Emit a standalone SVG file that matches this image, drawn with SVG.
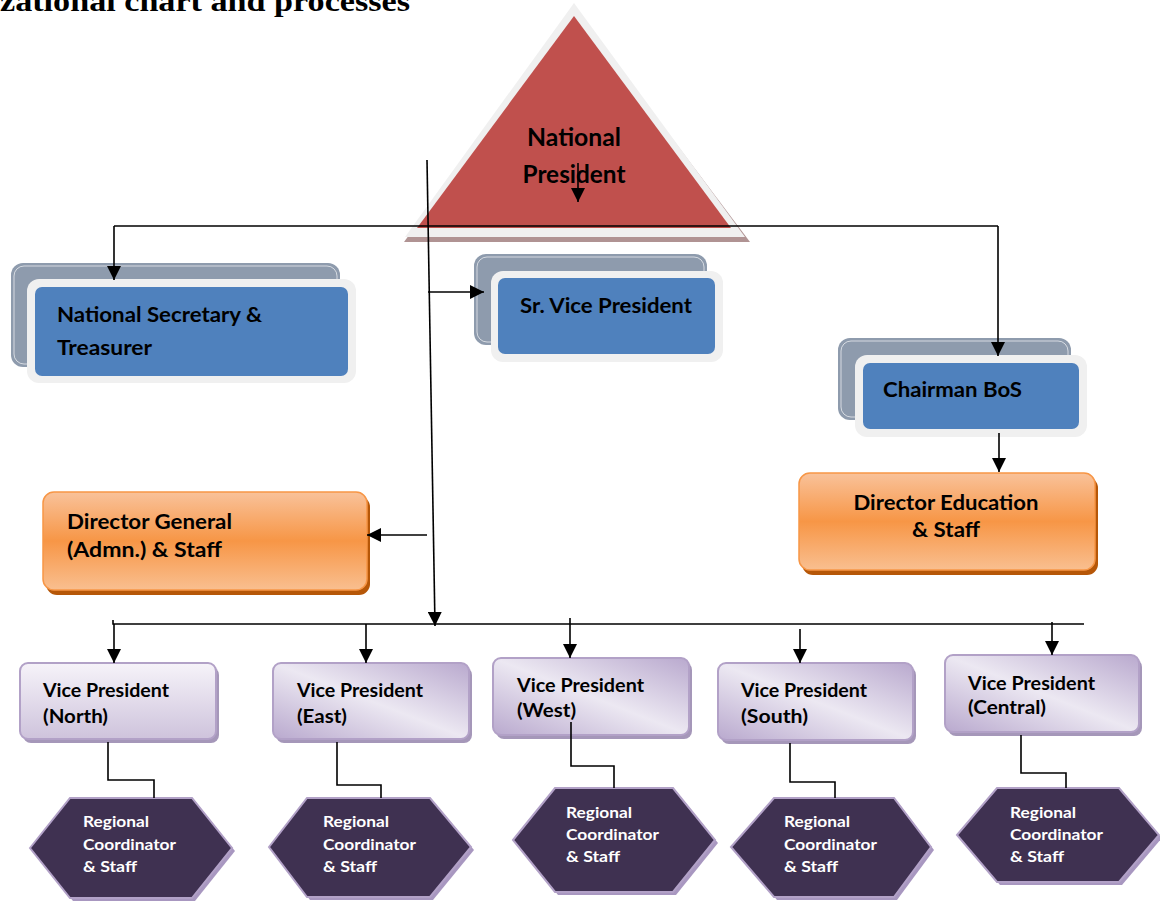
<svg xmlns="http://www.w3.org/2000/svg" width="1160" height="902" viewBox="0 0 1160 902">
<style>
.t{font-family:Lato,"Liberation Sans",sans-serif;font-weight:bold;fill:#000}
.tw{font-family:Lato,"Liberation Sans",sans-serif;font-weight:bold;fill:#fff;font-size:16px}
.back{fill:#8E9BAD}
.backline{fill:none;stroke:#fff;stroke-width:0.8;stroke-opacity:0.8}
.frame{fill:#F0F0F0}
.blue{fill:#4F81BD}
.orsh{fill:#B65708}
.or{fill:url(#gOr);stroke:#F79646;stroke-width:1.5}
.vpsh{fill:#A597B9}
.vp{stroke:#B2A1C7;stroke-width:2}
.hexsh{fill:#A897C0}
.hex{fill:#3F3151;stroke:#B2A1C7;stroke-width:2}
.ln{fill:none;stroke:#000;stroke-width:1.6}
.ar{marker-end:url(#arr)}
</style>
<defs>
<marker id="arr" viewBox="0 0 14 14" refX="14" refY="7" markerWidth="14" markerHeight="14" markerUnits="userSpaceOnUse" orient="auto">
<path d="M0,0 L14,7 L0,14 z" fill="#000"/>
</marker>
<linearGradient id="gOr" x1="0" y1="0" x2="0" y2="1">
<stop offset="0" stop-color="#F9C29A"/>
<stop offset="0.5" stop-color="#F79646"/>
<stop offset="1" stop-color="#F9BF90"/>
</linearGradient>
<linearGradient id="gVpN" x1="0" y1="0" x2="0" y2="1">
<stop offset="0" stop-color="#F6F3F9"/>
<stop offset="1" stop-color="#CEC3DC"/>
</linearGradient>
<linearGradient id="gVpD" x1="0" y1="1" x2="1" y2="0">
<stop offset="0" stop-color="#B9A9CE"/>
<stop offset="0.5" stop-color="#ECE8F2"/>
<stop offset="1" stop-color="#B9A9CE"/>
</linearGradient>
</defs>
<rect x="0" y="0" width="1160" height="902" fill="#fff"/>

<text x="0" y="11" font-family="'Liberation Serif','DejaVu Serif',serif" font-weight="bold" font-size="29" textLength="410" lengthAdjust="spacingAndGlyphs">zational chart and processes</text>

<g id="national-president">
<polygon points="574,8 404,242 750,242" fill="#B09393"/>
<polygon points="574,3 405,237 745,237" fill="#F0F0F0"/>
<polygon points="574,16 417,228 731,228" fill="#C0504D"/>
<text class="t" x="574" y="146" font-size="24" text-anchor="middle" textLength="94" lengthAdjust="spacingAndGlyphs">National</text>
<text class="t" x="574" y="183" font-size="24" text-anchor="middle" textLength="103" lengthAdjust="spacingAndGlyphs">President</text>
</g>

<g id="national-secretary">
<rect class="back" x="11" y="263" width="329" height="104" rx="12"/>
<rect class="backline" x="14" y="266" width="323" height="98" rx="10"/>
<rect class="frame" x="27" y="279" width="329" height="104" rx="12"/>
<rect class="blue" x="35" y="287" width="313" height="89" rx="7"/>
<text class="t" x="57" y="322" font-size="21" textLength="205" lengthAdjust="spacingAndGlyphs">National Secretary &amp;</text>
<text class="t" x="57" y="355" font-size="21" textLength="95" lengthAdjust="spacingAndGlyphs">Treasurer</text>
</g>

<g id="sr-vice-president">
<rect class="back" x="474" y="254" width="233" height="91" rx="12"/>
<rect class="backline" x="477" y="257" width="227" height="85" rx="10"/>
<rect class="frame" x="491" y="271" width="232" height="91" rx="12"/>
<rect class="blue" x="498" y="278" width="217" height="76" rx="7"/>
<text class="t" x="520" y="313" font-size="21" textLength="172" lengthAdjust="spacingAndGlyphs">Sr. Vice President</text>
</g>

<g id="chairman-bos">
<rect class="back" x="838" y="338" width="233" height="82" rx="12"/>
<rect class="backline" x="841" y="341" width="227" height="76" rx="10"/>
<rect class="frame" x="855" y="355" width="232" height="82" rx="12"/>
<rect class="blue" x="863" y="363" width="216" height="66" rx="7"/>
<text class="t" x="883" y="397" font-size="21" textLength="139" lengthAdjust="spacingAndGlyphs">Chairman BoS</text>
</g>

<g id="director-education">
<rect class="orsh" x="802" y="477" width="296" height="98" rx="11"/>
<rect class="or" x="799" y="473" width="296" height="97" rx="11"/>
<text class="t" x="946" y="510" font-size="21" text-anchor="middle" textLength="185" lengthAdjust="spacingAndGlyphs">Director Education</text>
<text class="t" x="946" y="537" font-size="21" text-anchor="middle" textLength="68" lengthAdjust="spacingAndGlyphs">&amp; Staff</text>
</g>

<g id="director-general">
<rect class="orsh" x="46" y="496" width="324" height="99" rx="11"/>
<rect class="or" x="43" y="492" width="324" height="98" rx="11"/>
<text class="t" x="67" y="529" font-size="21" textLength="165" lengthAdjust="spacingAndGlyphs">Director General</text>
<text class="t" x="67" y="557" font-size="21" textLength="155" lengthAdjust="spacingAndGlyphs">(Admn.) &amp; Staff</text>
</g>

<g id="vp-north">
<rect class="vpsh" x="23" y="667" width="196" height="76" rx="8"/>
<rect class="vp" x="20" y="663" width="196" height="76" rx="8" fill="url(#gVpN)"/>
<text class="t" x="43" y="697" font-size="19" textLength="126" lengthAdjust="spacingAndGlyphs">Vice President</text>
<text class="t" x="43" y="723" font-size="19" textLength="65" lengthAdjust="spacingAndGlyphs">(North)</text>
</g>
<g id="vp-east">
<rect class="vpsh" x="276" y="667" width="196" height="76" rx="8"/>
<rect class="vp" x="273" y="663" width="196" height="76" rx="8" fill="url(#gVpD)"/>
<text class="t" x="297" y="697" font-size="19" textLength="126" lengthAdjust="spacingAndGlyphs">Vice President</text>
<text class="t" x="297" y="723" font-size="19" textLength="50" lengthAdjust="spacingAndGlyphs">(East)</text>
</g>
<g id="vp-west">
<rect class="vpsh" x="496" y="662" width="196" height="77" rx="8"/>
<rect class="vp" x="493" y="658" width="196" height="77" rx="8" fill="url(#gVpD)"/>
<text class="t" x="517" y="692" font-size="19" textLength="127" lengthAdjust="spacingAndGlyphs">Vice President</text>
<text class="t" x="517" y="717" font-size="19" textLength="59" lengthAdjust="spacingAndGlyphs">(West)</text>
</g>
<g id="vp-south">
<rect class="vpsh" x="721" y="667" width="195" height="77" rx="8"/>
<rect class="vp" x="718" y="663" width="195" height="77" rx="8" fill="url(#gVpD)"/>
<text class="t" x="741" y="697" font-size="19" textLength="126" lengthAdjust="spacingAndGlyphs">Vice President</text>
<text class="t" x="741" y="723" font-size="19" textLength="67" lengthAdjust="spacingAndGlyphs">(South)</text>
</g>
<g id="vp-central">
<rect class="vpsh" x="948" y="659" width="194" height="77" rx="8"/>
<rect class="vp" x="945" y="655" width="194" height="77" rx="8" fill="url(#gVpD)"/>
<text class="t" x="968" y="690" font-size="19" textLength="127" lengthAdjust="spacingAndGlyphs">Vice President</text>
<text class="t" x="968" y="714" font-size="19" textLength="78" lengthAdjust="spacingAndGlyphs">(Central)</text>
</g>

<g id="rc-north">
<polygon class="hexsh" points="33,851 73,801 195,801 235,851 195,901 73,901"/>
<polygon class="hex" points="30,848 70,798 192,798 232,848 192,898 70,898"/>
<text class="tw" x="83" y="827" textLength="66" lengthAdjust="spacingAndGlyphs">Regional</text>
<text class="tw" x="83" y="850" textLength="93" lengthAdjust="spacingAndGlyphs">Coordinator</text>
<text class="tw" x="83" y="872" textLength="54" lengthAdjust="spacingAndGlyphs">&amp; Staff</text>
</g>
<g id="rc-east">
<polygon class="hexsh" points="272,850 310,801 433,801 474,850 433,900 310,900"/>
<polygon class="hex" points="269,847 307,798 430,798 471,847 430,897 307,897"/>
<text class="tw" x="323" y="827" textLength="66" lengthAdjust="spacingAndGlyphs">Regional</text>
<text class="tw" x="323" y="850" textLength="93" lengthAdjust="spacingAndGlyphs">Coordinator</text>
<text class="tw" x="323" y="872" textLength="54" lengthAdjust="spacingAndGlyphs">&amp; Staff</text>
</g>
<g id="rc-west">
<polygon class="hexsh" points="516,843 558,791 676,791 718,843 676,895 558,895"/>
<polygon class="hex" points="513,840 555,788 673,788 715,840 673,892 555,892"/>
<text class="tw" x="566" y="818" textLength="66" lengthAdjust="spacingAndGlyphs">Regional</text>
<text class="tw" x="566" y="840" textLength="93" lengthAdjust="spacingAndGlyphs">Coordinator</text>
<text class="tw" x="566" y="862" textLength="54" lengthAdjust="spacingAndGlyphs">&amp; Staff</text>
</g>
<g id="rc-south">
<polygon class="hexsh" points="734,850 777,801 897,801 934,850 897,900 777,900"/>
<polygon class="hex" points="731,847 774,798 894,798 931,847 894,897 774,897"/>
<text class="tw" x="784" y="827" textLength="66" lengthAdjust="spacingAndGlyphs">Regional</text>
<text class="tw" x="784" y="850" textLength="93" lengthAdjust="spacingAndGlyphs">Coordinator</text>
<text class="tw" x="784" y="872" textLength="54" lengthAdjust="spacingAndGlyphs">&amp; Staff</text>
</g>
<g id="rc-central">
<polygon class="hexsh" points="960,838 1000,791 1122,791 1162,838 1122,885 1000,885"/>
<polygon class="hex" points="957,835 997,788 1119,788 1159,835 1119,882 997,882"/>
<text class="tw" x="1010" y="818" textLength="66" lengthAdjust="spacingAndGlyphs">Regional</text>
<text class="tw" x="1010" y="840" textLength="93" lengthAdjust="spacingAndGlyphs">Coordinator</text>
<text class="tw" x="1010" y="862" textLength="54" lengthAdjust="spacingAndGlyphs">&amp; Staff</text>
</g>

<g id="connectors">
<path class="ln ar" d="M578,163 V202"/>
<path class="ln" d="M114,226 H998"/>
<path class="ln ar" d="M114,226 V280"/>
<path class="ln ar" d="M998,226 V356"/>
<path class="ln ar" d="M427,160 L435,626"/>
<path class="ln ar" d="M428,292 H484"/>
<path class="ln ar" d="M427,535 H367"/>
<path class="ln ar" d="M999,433 V472"/>
<path class="ln" d="M113,620 V624 H1084"/>
<path class="ln ar" d="M114,624 V663"/>
<path class="ln ar" d="M366,624 V663"/>
<path class="ln ar" d="M570,618 V658"/>
<path class="ln ar" d="M800,629 V663"/>
<path class="ln ar" d="M1052,622 V655"/>
<path class="ln" d="M108,742 V780 H154 V798"/>
<path class="ln" d="M337,742 V785 H381 V798"/>
<path class="ln" d="M571,722 V766 H614 V788"/>
<path class="ln" d="M790,743 V782 H835 V798"/>
<path class="ln" d="M1021,735 V773 H1066 V788"/>
</g>
</svg>
